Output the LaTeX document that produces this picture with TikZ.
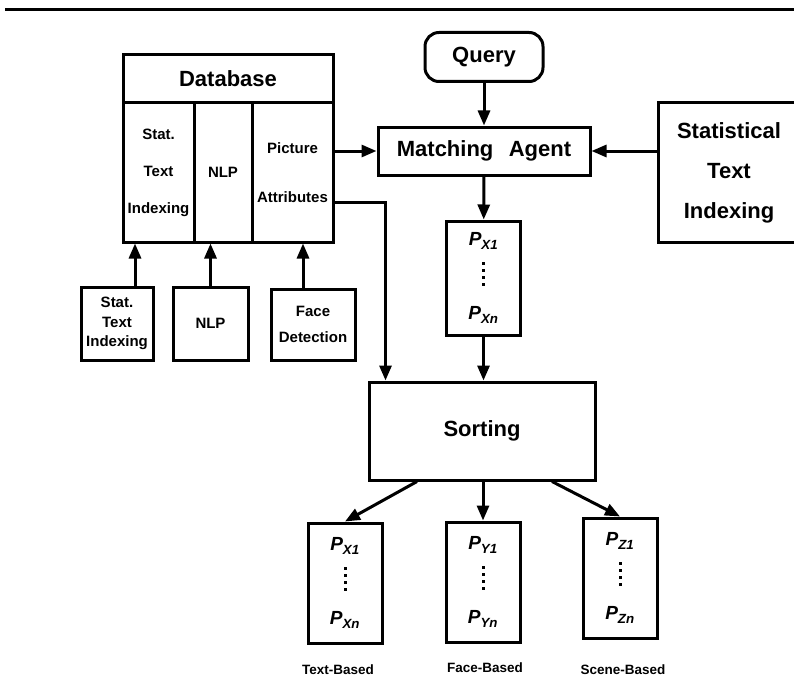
\documentclass[tikz,border=0pt]{standalone}
\usepackage{fontspec}
\setmainfont{Liberation Sans}
\usetikzlibrary{arrows.meta}

% four square dots stacked, for the ranked lists
\newcommand\sqdots{\vbox{\offinterlineskip
  \hbox{\rule{3pt}{3pt}}\kern4pt\hbox{\rule{3pt}{3pt}}\kern4pt
  \hbox{\rule{3pt}{3pt}}\kern4pt\hbox{\rule{3pt}{3pt}}}}
\newcommand\plist[1]{P\textsubscript{#11}\\[10pt]\sqdots\\[4pt]P\textsubscript{#1n}}

\begin{document}
\begin{tikzpicture}[x=1pt,y=-1pt,
    box/.style={draw,line width=3pt,inner sep=2pt,align=center},
    big/.style={font=\fontsize{22}{40}\selectfont\bfseries},
    small/.style={font=\fontsize{15}{37}\selectfont\bfseries},
    arr/.style={line width=3pt,-{Triangle[length=15pt,width=12pt]}},
    rank/.style={box,minimum width=74pt,minimum height=120pt,
      font=\fontsize{19}{30}\selectfont\bfseries\itshape},
    tag/.style={font=\fontsize{13.5}{16}\selectfont\bfseries}]
  \useasboundingbox (0,0) rectangle (794,682);
  \draw[line width=3pt] (5,10) -- (794,10);

  % database with its three index columns
  \node[box,big,minimum width=210pt,minimum height=48pt] (db) at (228,79) {Database};
  \node[box,small,minimum width=71pt,minimum height=139pt] (dbstat) at (158.5,172.5)
    {Stat.\\Text\\Indexing};
  \node[box,small,minimum width=58pt,minimum height=139pt] (dbnlp) at (223,172.5) {NLP};
  \node[box,small,minimum width=81pt,minimum height=139pt] (dbpic) at (292.5,172.5)
    {Picture\\[12pt]Attributes};

  % modules that fill the database
  \node[box,small,font=\fontsize{15}{19.5}\selectfont\bfseries,
    minimum width=72pt,minimum height=73pt] (lstat) at (117,323.5) {Stat.\\Text\\Indexing};
  \node[box,small,minimum width=75pt,minimum height=73pt] (lnlp) at (210.5,323.5) {NLP};
  \node[box,small,font=\fontsize{15}{20}\selectfont\bfseries,
    minimum width=84pt,minimum height=71pt] (lface) at (313,324.5) {Face\\[6pt]Detection};

  \node[box,big,rounded corners=14pt,minimum width=118pt,minimum height=49pt] (query)
    at (484,57) {Query};
  \node[box,big,minimum width=212pt,minimum height=48pt] (ma) at (484,151)
    {Matching\hspace{0.7em}Agent};
  \node[box,big,minimum width=142pt,minimum height=139pt] (sti) at (729,172.5)
    {Statistical\\Text\\Indexing};

  \node[rank,minimum height=114pt] (px) at (483.5,278) {\plist{X}};
  \node[box,big,minimum width=226pt,minimum height=98pt] (sort) at (482,431) {Sorting};

  \node[rank] (r1) at (345,583) {\plist{X}};
  \node[rank] (r2) at (483,582) {\plist{Y}};
  \node[rank] (r3) at (620,578) {\plist{Z}};
  \node[tag] (t1) at (338,670) {Text-Based};
  \node[tag] (t2) at (485,668) {Face-Based};
  \node[tag] (t3) at (623,670) {Scene-Based};

  \draw[arr] ([xshift=18pt]lstat.north) -- ([xshift=18pt]lstat.north |- dbstat.south);
  \draw[arr] (lnlp.north) -- (lnlp.north |- dbnlp.south);
  \draw[arr] ([xshift=-10pt]lface.north) -- ([xshift=-10pt]lface.north |- dbpic.south);
  \draw[arr] (dbpic.east |- ma.west) -- (ma.west);
  \draw[arr] ([yshift=-30pt]dbpic.east) -| ([xshift=18pt]sort.north west);
  \draw[arr] (query) -- (ma);
  \draw[arr] (sti.west |- ma.east) -- (ma.east);
  \draw[arr] (ma) -- (px);
  \draw[arr] (px) -- (px.south |- sort.north);
  \draw[arr] ([xshift=-65pt]sort.south) -- (r1.north);
  \draw[arr] (sort.south -| r2.north) -- (r2.north);
  \draw[arr] ([xshift=70pt]sort.south) -- (r3.north);
\end{tikzpicture}
\end{document}
